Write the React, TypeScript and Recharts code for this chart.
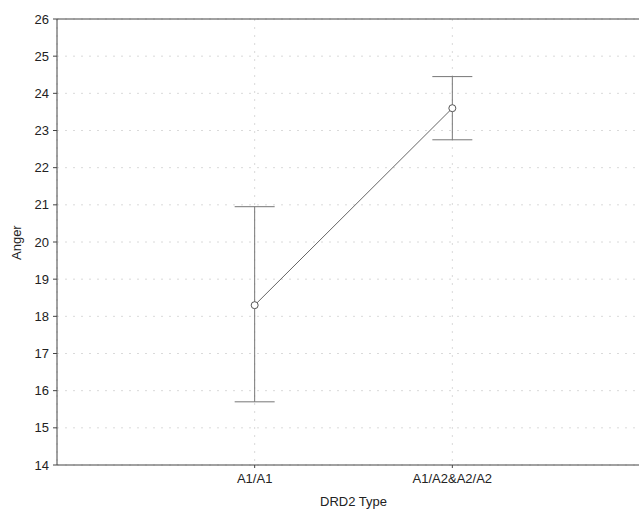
import { LineChart, Line, XAxis, YAxis, CartesianGrid, ErrorBar, ReferenceLine } from 'recharts';

const categories = ['A1/A1', 'A1/A2&A2/A2'];
const means = [18.3, 23.6];
const lower = [15.7, 22.75];
const upper = [20.95, 24.45];
const yTicks = [14, 15, 16, 17, 18, 19, 20, 21, 22, 23, 24, 25, 26];

const data = categories.map((name, i) => ({
  pos: i + 1,
  name,
  anger: means[i],
  err: [means[i] - lower[i], upper[i] - means[i]],
}));

const font = { fontFamily: '"Liberation Sans", Arial, sans-serif', fontSize: 13, fill: '#222' };

export default function App() {
  return (
    <div style={{ position: 'fixed', left: 0, top: 0, width: 639, height: 510, overflow: 'hidden', background: '#fff' }}>
      <LineChart width={662} height={510} data={data} margin={{ top: 19, right: 12, bottom: 0, left: 0 }}>
        <CartesianGrid stroke="#dadada" strokeDasharray="2 6" />
        <XAxis
          type="number"
          dataKey="pos"
          domain={[0, 3]}
          ticks={[1, 2]}
          tickFormatter={(v: number) => categories[v - 1]}
          height={45}
          stroke="#444"
          tickSize={3}
          tick={font}
          tickMargin={6}
          label={{ value: 'DRD2 Type', position: 'insideBottom', offset: 4, ...font }}
        />
        <YAxis
          domain={[14, 26]}
          ticks={yTicks}
          width={57}
          stroke="#444"
          tickSize={4}
          tick={font}
          tickMargin={4}
          label={{ value: 'Anger', angle: -90, position: 'insideLeft', offset: 16, dy: 18, ...font }}
        />
        <ReferenceLine y={26} stroke="#444" />
        <Line
          dataKey="anger"
          stroke="#666"
          strokeWidth={1}
          dot={{ r: 3.5, fill: '#fff', stroke: '#555', strokeWidth: 1 }}
          isAnimationActive={false}
        >
          <ErrorBar dataKey="err" width={20} stroke="#777" strokeWidth={1} />
        </Line>
      </LineChart>
    </div>
  );
}
